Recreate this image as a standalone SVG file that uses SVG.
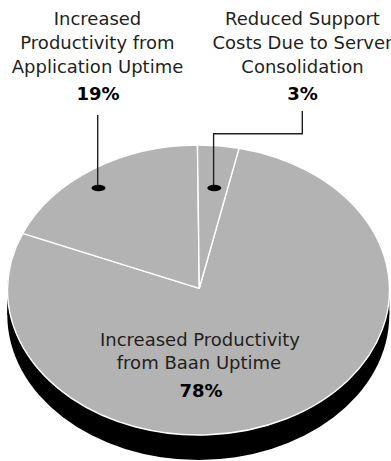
<svg xmlns="http://www.w3.org/2000/svg" width="391" height="461" viewBox="0 0 391 461">
<style>
.lbl{font-family:"DejaVu Sans",sans-serif;font-size:18px;fill:#231f20;text-anchor:middle}
.pct{font-family:"DejaVu Sans",sans-serif;font-size:18px;font-weight:bold;fill:#000;text-anchor:middle}
.slice{fill:#b3b3b3;stroke:#fff;stroke-width:1.4;stroke-linejoin:round}
.lead{fill:none;stroke:#231f20;stroke-width:1.4}
</style>
<rect width="391" height="461" fill="#fff"/>
<g id="pie-side">
<ellipse cx="198.3" cy="315" rx="191" ry="145" fill="#000"/>
<rect x="7.3" y="290" width="382" height="25" fill="#000"/>
</g>
<g id="pie-top">
<ellipse cx="198.3" cy="290" rx="191" ry="145" fill="#b3b3b3"/>
</g>
<g id="slice-78">
<path class="slice" d="M199.3,288.3 L239,148.3 A191,145 0 1 1 22.7,233.3 Z"/>
</g>
<g id="slice-19">
<path class="slice" d="M199.3,288.3 L22.7,233.3 A191,145 0 0 1 197.5,145 Z"/>
</g>
<g id="slice-3">
<path class="slice" d="M199.3,288.3 L197.5,145 A191,145 0 0 1 239,148.3 Z"/>
</g>
<g id="connectors">
<polyline class="lead" points="97.7,115 97.7,188"/>
<ellipse cx="98.5" cy="188" rx="7" ry="3.2" fill="#000"/>
<polyline class="lead" points="302.3,111 302.3,133.8 213.6,133.8 213.6,188"/>
<ellipse cx="214.3" cy="188" rx="7" ry="3.2" fill="#000"/>
</g>
<g id="label-19">
<text class="lbl" x="97.5" y="25">Increased</text>
<text class="lbl" x="97.5" y="49">Productivity from</text>
<text class="lbl" x="97.5" y="73">Application Uptime</text>
<text class="pct" x="98" y="99.5">19%</text>
</g>
<g id="label-3">
<text class="lbl" x="302.5" y="25">Reduced Support</text>
<text class="lbl" x="302.5" y="49">Costs Due to Server</text>
<text class="lbl" x="302.5" y="73">Consolidation</text>
<text class="pct" x="302.5" y="99.5">3%</text>
</g>
<g id="label-78">
<text class="lbl" x="200" y="345.5">Increased Productivity</text>
<text class="lbl" x="199" y="369">from Baan Uptime</text>
<text class="pct" x="201" y="396.5">78%</text>
</g>
</svg>
